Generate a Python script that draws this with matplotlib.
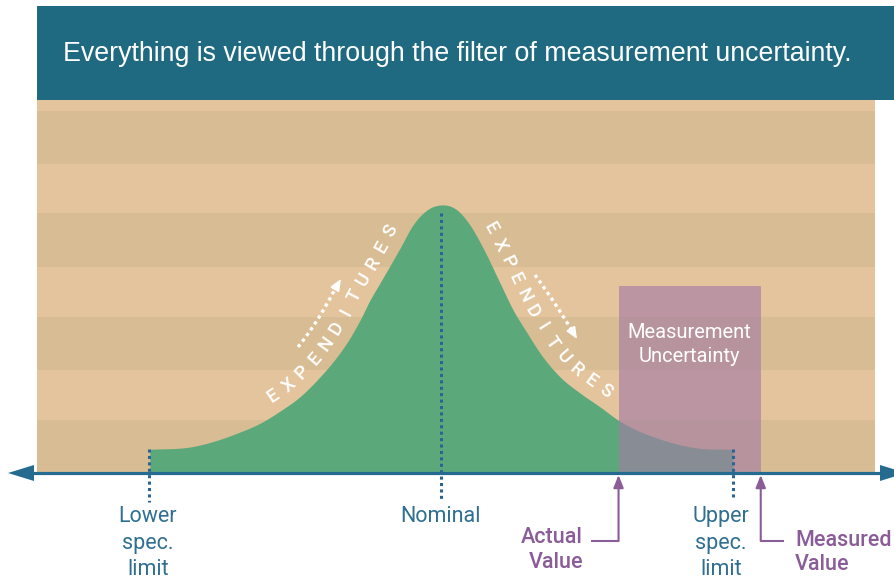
import numpy as np
import matplotlib
matplotlib.use("Agg")
import matplotlib.pyplot as plt
from matplotlib.patches import Rectangle, Polygon

# ---------------- data ----------------
title = "Everything is viewed through the filter of measurement uncertainty."
curve_x = [-9.97, -8.60, -6.88, -6.20, -5.51, -4.83, -4.14, -3.56, -3.12, -2.77, -2.43, -2.09,
           -1.40, -0.96, -0.48, -0.03,
           0.55, 0.99, 1.44, 2.02, 2.47, 2.95, 3.39, 4.08, 4.76, 5.45, 6.06, 7.60, 8.77, 10.0]
curve_y = [8.84, 9.70, 15.30, 18.54, 23.13, 28.47, 35.93, 43.40, 50.37, 57.09, 64.55, 70.90,
           83.96, 92.54, 98.13, 100.0,
           98.13, 92.54, 83.96, 70.90, 60.82, 52.24, 44.78, 35.82, 29.85, 24.63, 19.78, 12.31, 9.33, 8.84]
lower_spec = -10.0
nominal = 0.0
upper_spec = 10.0
actual_value = 6.08
measured_value = 10.95
uncertainty_height = 69.8
spec_labels = ["Lower\nspec.\nlimit", "Nominal", "Upper\nspec.\nlimit"]
value_labels = ["Actual\nValue", "Measured\nValue"]
box_label = "Measurement\nUncertainty"
arc_word = "EXPENDITURES"

# ---------------- style ----------------
W, H = 895, 581
X0, SX = 441.0, 29.2      # pixel of nominal, pixels per unit
Y0, SY = 473.0, 2.68      # pixel of axis, pixels per unit height

BANNER = "#1f6a80"
LIGHT = "#e3c49d"
DARK = "#d8bc93"
GREEN = "#5ba97a"
BOX = "#a37ba6"
AXIS = "#256b8f"
DOT = "#2b6392"
TXT_BLUE = "#2f6f92"
PURPLE = "#8a5c98"
DIN = ["Roboto", "DejaVu Sans"]


def px2d(px, py):
    return (px - X0) / SX, (Y0 - py) / SY


fig = plt.figure(figsize=(W / 100, H / 100), dpi=100)
ax = fig.add_axes([0, 0, 1, 1])
xl0, _ = px2d(0, 0)
xl1, _ = px2d(W, 0)
_, yl0 = px2d(0, H)
_, yl1 = px2d(0, 0)
ax.set_xlim(xl0, xl1)
ax.set_ylim(yl0, yl1)
ax.axis("off")


def prect(x0, y0, x1, y1, **kw):
    a = px2d(x0, y1)
    b = px2d(x1, y0)
    ax.add_patch(Rectangle(a, b[0] - a[0], b[1] - a[1], lw=0, **kw))


# banner
prect(37, 6, 900, 100, color=BANNER, zorder=1)
tx, ty = px2d(457, 61)
ax.text(tx, ty, title, color="white", fontsize=19.3, family=["Liberation Sans", "DejaVu Sans"],
        ha="center", va="baseline", zorder=5)

# striped background
prect(37, 100, 875, 473, color=LIGHT, zorder=1)
for a, b in [(111, 164), (213, 267), (317, 370), (420, 473)]:
    prect(37, a, 875, b, color=DARK, zorder=1)

# smooth curve through the read points (cubic Hermite)
xk = np.array(curve_x)
yk = np.array(curve_y)
mk = np.gradient(yk, xk)
xs = np.linspace(xk[0], xk[-1], 2000)
idx = np.clip(np.searchsorted(xk, xs) - 1, 0, len(xk) - 2)
h = xk[idx + 1] - xk[idx]
t = (xs - xk[idx]) / h
ys = ((2 * t**3 - 3 * t**2 + 1) * yk[idx] + (t**3 - 2 * t**2 + t) * h * mk[idx]
      + (-2 * t**3 + 3 * t**2) * yk[idx + 1] + (t**3 - t**2) * h * mk[idx + 1])
ax.fill_between(xs, ys, 0, color=GREEN, lw=0, zorder=2)

# measurement uncertainty box
ax.add_patch(Rectangle((actual_value, 0), measured_value - actual_value, uncertainty_height,
                       color=BOX, alpha=0.62, lw=0, zorder=3))
bl = box_label.split("\n")
bx = (actual_value + measured_value) / 2
for i, line in enumerate(bl):
    _, by = px2d(0, 338 + 24.5 * i)
    ax.text(bx, by, line, color="white", fontsize=14.5, family=DIN, ha="center", va="baseline", zorder=6)

# axis with arrows
a1 = px2d(30, 473)
a2 = px2d(884, 473)
ax.plot([a1[0], a2[0]], [0, 0], color=AXIS, lw=2.3, solid_capstyle="butt", zorder=4)
ax.add_patch(Polygon([px2d(8, 473), px2d(34, 465), px2d(34, 481)], closed=True, color=AXIS, lw=0, zorder=4))
ax.add_patch(Polygon([px2d(906, 473), px2d(880, 465), px2d(880, 481)], closed=True, color=AXIS, lw=0, zorder=4))

# dotted reference lines
dots = dict(color=DOT, lw=2.2, linestyle=(0, (1, 1.1)), dash_capstyle="butt", zorder=5)
ax.plot([lower_spec] * 2, [yk[0], px2d(0, 502)[1]], **dots)
ax.plot([nominal] * 2, [max(curve_y) - 3, px2d(0, 499)[1]], **dots)
ax.plot([upper_spec] * 2, [yk[-1], px2d(0, 500)[1]], **dots)

# spec labels
label_x_px = [148, 441, 721]
for lab, lx in zip(spec_labels, label_x_px):
    for i, line in enumerate(lab.split("\n")):
        x, y = px2d(lx, 522 + 26.5 * i)
        ax.text(x, y, line, color=TXT_BLUE, fontsize=15.5, family=DIN, ha="center", va="baseline", zorder=6)

# value callouts
for k, (val, lab) in enumerate(zip([actual_value, measured_value], value_labels)):
    _, ytop = px2d(0, 475)
    _, ybot = px2d(0, 541)
    ax.annotate("", xy=(val, ytop), xytext=(val, ybot),
                arrowprops=dict(arrowstyle="-|>,head_length=0.75,head_width=0.3", color=PURPLE,
                                lw=1.5, shrinkA=0, shrinkB=0), zorder=6)
    if k == 0:
        hx = px2d(591, 0)[0]
        ax.plot([hx, val], [ybot, ybot], color=PURPLE, lw=1.5, solid_capstyle="butt", zorder=6)
        for i, line in enumerate(lab.split("\n")):
            x, y = px2d(583, 543 + 24.5 * i)
            ax.text(x, y, line, color=PURPLE, fontsize=15.5, family=DIN, fontweight="medium",
                    ha="right", va="baseline", zorder=6)
    else:
        hx = px2d(784, 0)[0]
        ax.plot([val, hx], [ybot, ybot], color=PURPLE, lw=1.5, solid_capstyle="butt", zorder=6)
        for i, line in enumerate(lab.split("\n")):
            x, y = px2d(795, 546 + 24.5 * i)
            ax.text(x, y, line, color=PURPLE, fontsize=15.5, family=DIN, fontweight="medium",
                    ha="left", va="baseline", zorder=6)

# EXPENDITURES along the curve (in display pixels)
disp = ax.transData.transform(np.column_stack([xs, ys]))
tg = np.gradient(disp, axis=0)
ker = np.ones(41) / 41
tgx = np.convolve(tg[:, 0], ker, mode="same")
tgy = np.convolve(tg[:, 1], ker, mode="same")
nrm = np.hypot(tgx, tgy)
tgx, tgy = tgx / nrm, tgy / nrm
off = 16.0
ox = disp[:, 0] - tgy * off
oy = disp[:, 1] + tgx * off
seg = np.hypot(np.diff(ox), np.diff(oy))
s = np.concatenate([[0], np.cumsum(seg)])


def nearest_s(px, py):
    dy = H - py
    return s[np.argmin((ox - px) ** 2 + (oy - dy) ** 2)]


inv = ax.transData.inverted()
for (p0, p1) in [((275, 398), (395, 233)), ((485, 232), (602, 397))]:
    s0, s1 = nearest_s(*p0), nearest_s(*p1)
    for i, ch in enumerate(arc_word):
        si = s0 + (s1 - s0) * i / (len(arc_word) - 1)
        j = min(np.searchsorted(s, si), len(s) - 1)
        ang = np.degrees(np.arctan2(tgy[j], tgx[j]))
        dx, dy = inv.transform((ox[j], oy[j]))
        ax.text(dx, dy, ch, color="white", fontsize=13.5, family=DIN, fontweight="medium", rotation=ang,
                rotation_mode="anchor", ha="center", va="center", zorder=6)


# dotted arrows
def dotted_arrow(p0, pc, p1, tip):
    tt = np.linspace(0, 1, 60)
    P0, PC, P1 = np.array(p0, float), np.array(pc, float), np.array(p1, float)
    pts = ((1 - tt)[:, None] ** 2) * P0 + (2 * (1 - tt) * tt)[:, None] * PC + (tt[:, None] ** 2) * P1
    d = np.array([px2d(x, y) for x, y in pts])
    ax.plot(d[:, 0], d[:, 1], color="white", lw=2.4, linestyle=(0, (1, 1.1)), dash_capstyle="butt", zorder=6)
    ax.annotate("", xy=px2d(*tip), xytext=px2d(*p1),
                arrowprops=dict(arrowstyle="-|>,head_length=0.7,head_width=0.3", color="white",
                                lw=1.2, shrinkA=0, shrinkB=0), zorder=6)


dotted_arrow((298, 347), (318, 322), (335, 289), (341, 279))
dotted_arrow((535, 275), (552, 298), (571, 329), (577, 339))

fig.savefig("out.png", dpi=100)
